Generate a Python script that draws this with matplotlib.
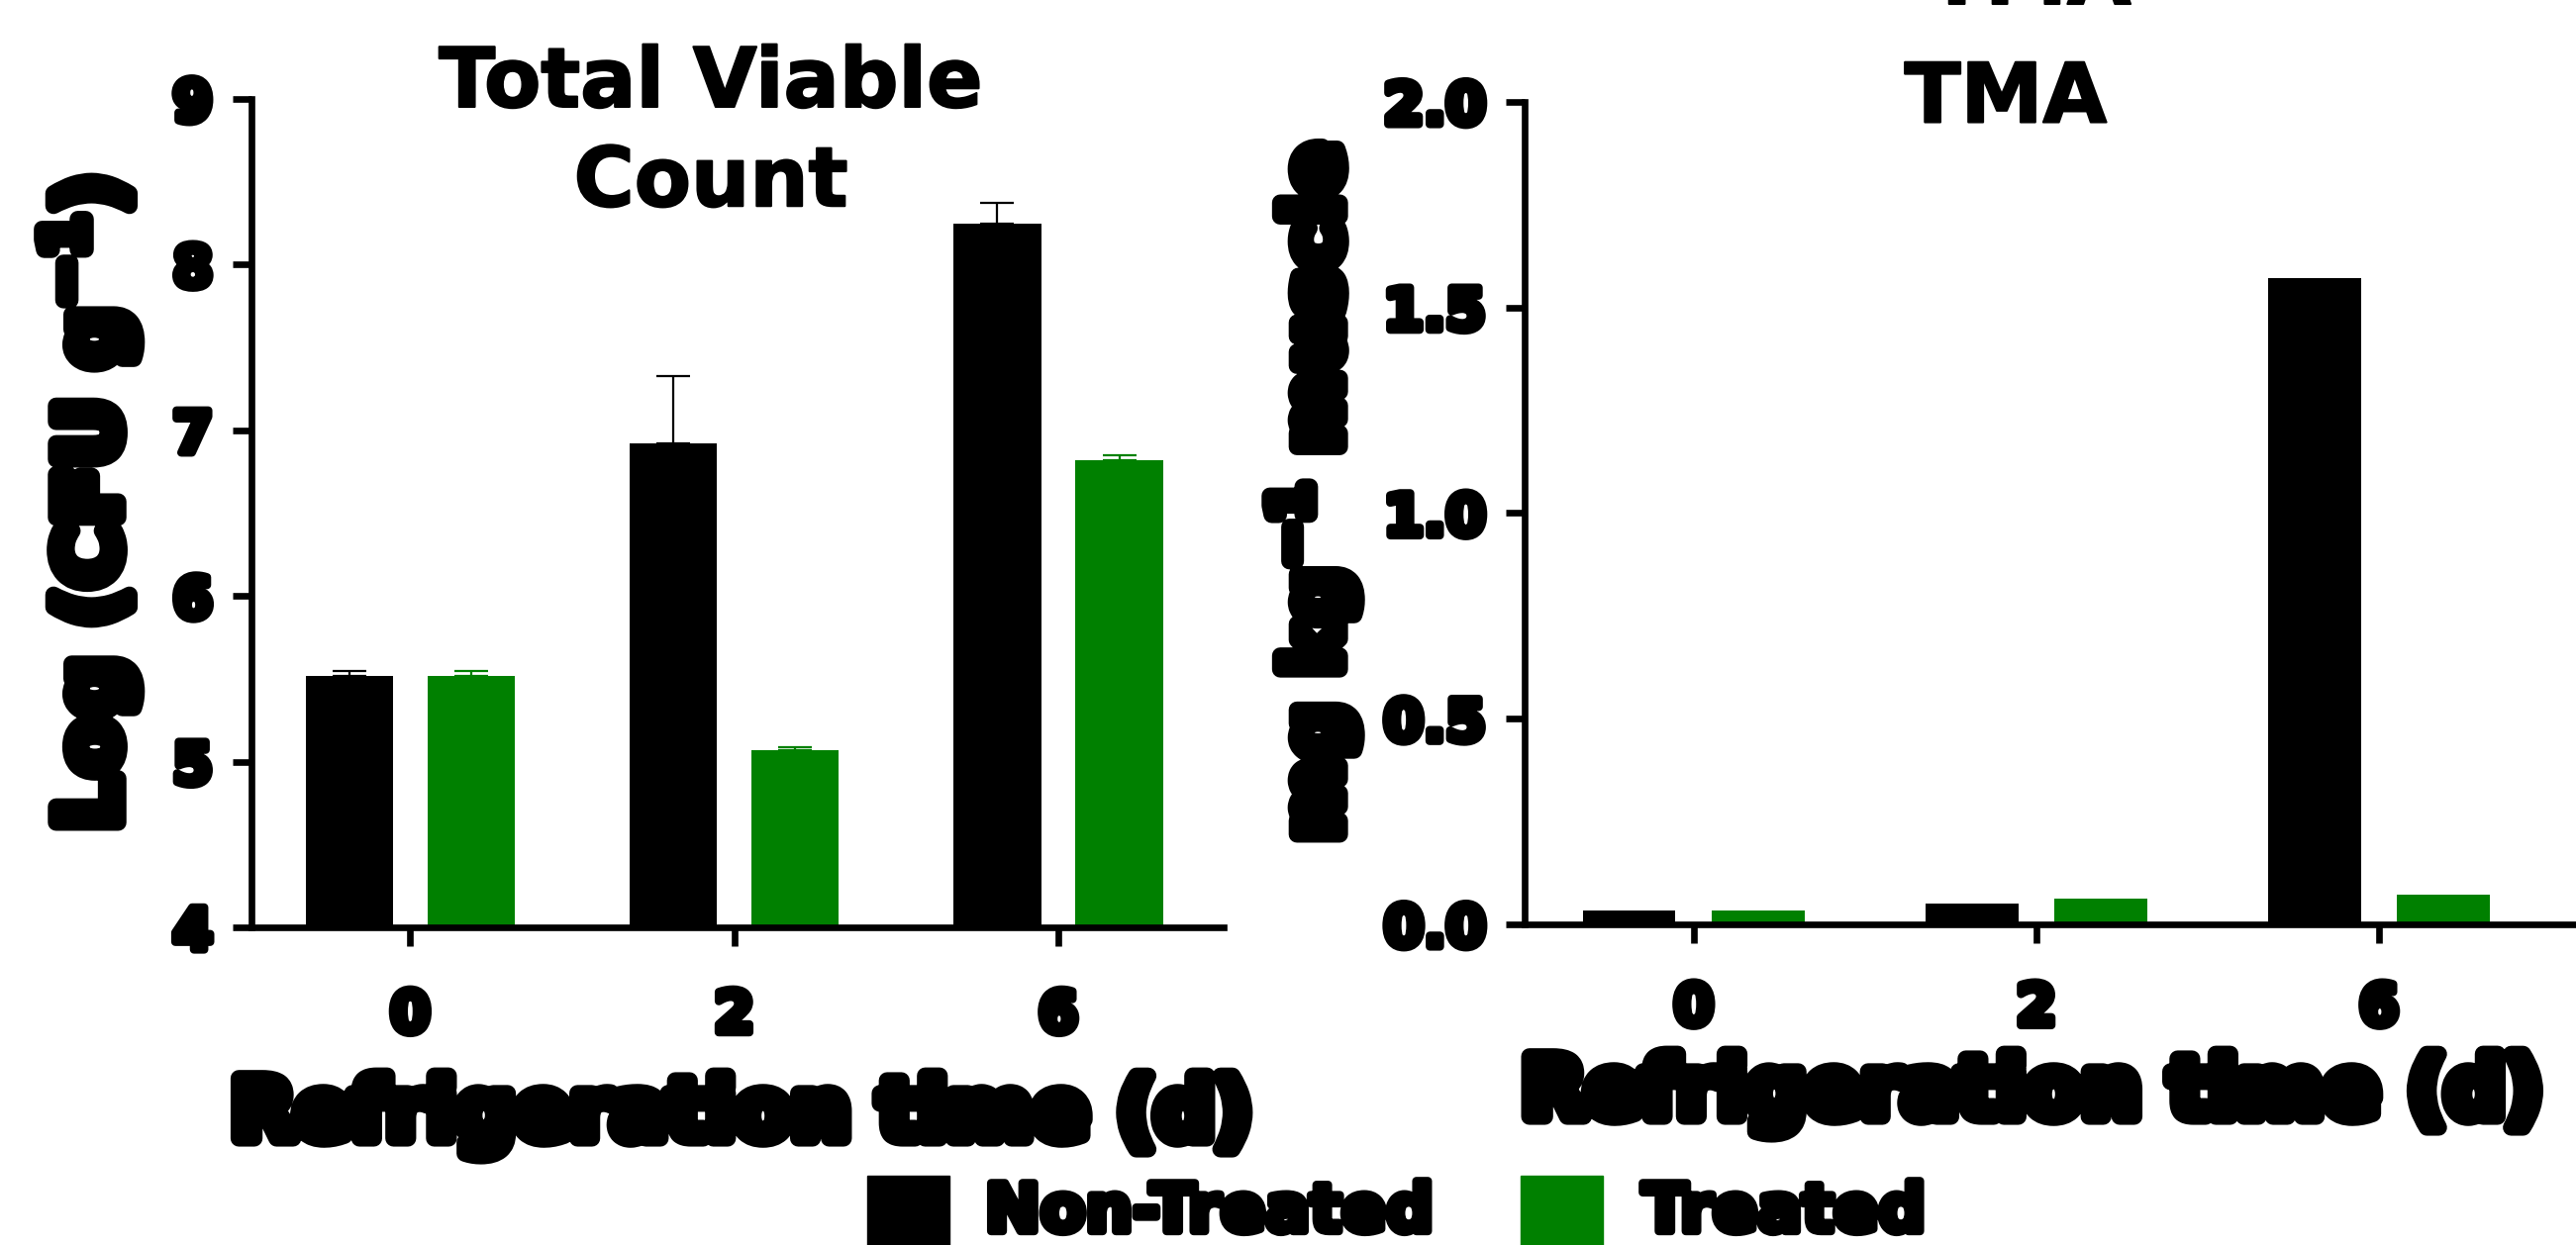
import matplotlib
matplotlib.use("Agg")
import matplotlib.pyplot as plt
import matplotlib.patheffects as pe
from matplotlib.patches import Rectangle
import numpy as np

plt.rcParams["font.family"] = ["DejaVu Sans"]
plt.rcParams["font.weight"] = "bold"
plt.rcParams["mathtext.fontset"] = "dejavusans"

# ---- data ----
days = ["0", "2", "6"]
tvc_non = [5.52, 6.92, 8.25]
tvc_non_err = [0.03, 0.41, 0.12]
tvc_trt = [5.52, 5.07, 6.82]
tvc_trt_err = [0.03, 0.02, 0.03]
tma_non = [0.034, 0.05, 1.572]
tma_trt = [0.034, 0.063, 0.072]

BLACK = "#000000"
GREEN = "#008000"


def heavy(w):
    return [pe.withStroke(linewidth=w, foreground="black")]


fig = plt.figure(figsize=(26.02, 12.58), dpi=100)
ax1 = fig.add_axes([0.0976, 0.2552, 0.3774, 0.6653])
ax2 = fig.add_axes([0.5918, 0.2576, 0.4082, 0.6606])

x = np.arange(len(days))
off = 0.188
bw = 0.27


def style_axis(ax, xpad):
    for s in ["top", "right"]:
        ax.spines[s].set_visible(False)
    for s in ["left", "bottom"]:
        ax.spines[s].set_linewidth(4.8)
    ax.tick_params(axis="both", width=4.8, length=14)
    ax.tick_params(axis="y", labelsize=42, pad=14)
    ax.tick_params(axis="x", labelsize=42, pad=xpad)
    ax.set_xticks(x)
    ax.set_xticklabels(days)
    for lbl in ax.get_xticklabels() + ax.get_yticklabels():
        lbl.set_fontweight("bold")
        lbl.set_path_effects(heavy(6))


# ---- Total viable count ----
ax1.bar(x - off, tvc_non, bw, color=BLACK)
ax1.bar(x + off, tvc_trt, bw, color=GREEN)
ax1.errorbar(x - off, tvc_non, yerr=[np.zeros(3), tvc_non_err], fmt="none",
             ecolor=BLACK, elinewidth=1.6, capsize=12, capthick=1.6)
ax1.errorbar(x + off, tvc_trt, yerr=[np.zeros(3), tvc_trt_err], fmt="none",
             ecolor=GREEN, elinewidth=1.6, capsize=12, capthick=1.6)
ax1.set_ylim(4, 9)
ax1.set_yticks([4, 5, 6, 7, 8, 9])
ax1.set_xlim(-0.49, 2.51)
style_axis(ax1, 30)

# ---- TMA ----
ax2.bar(x - off, tma_non, bw, color=BLACK)
ax2.bar(x + off, tma_trt, bw, color=GREEN)
ax2.set_ylim(0, 2.0)
ax2.set_yticks([0, 0.5, 1.0, 1.5, 2.0])
ax2.set_yticklabels(["0.0", "0.5", "1.0", "1.5", "2.0"])
ax2.set_xlim(-0.494, 2.575)
style_axis(ax2, 27)

# ---- titles ----
fig.text(0.276, 0.893, "Total Viable\nCount", ha="center", va="center",
         fontsize=60, fontweight="bold", linespacing=1.3, path_effects=heavy(1.5))
fig.text(0.7786, 0.9205, "TMA", ha="center", va="center",
         fontsize=60, fontweight="bold", path_effects=heavy(1.5))
# clipped repeat of the title at the very top edge, as in the original
fig.text(0.788, 1 - 4 / 1258, "TMA", ha="center", va="baseline",
         fontsize=60, fontweight="bold", path_effects=heavy(1.5))

# ---- axis labels ----
fig.text(0.288, 1 - 1127 / 1258, "Refrigeration time (d)", ha="center", va="center",
         fontsize=60, fontweight="bold", path_effects=heavy(12))
fig.text(0.789, 1 - 1105 / 1258, "Refrigeration time (d)", ha="center", va="center",
         fontsize=60, fontweight="bold", path_effects=heavy(12))
fig.text(91 / 2602, 0.5946, r"Log (CFU g$^{\mathbf{-1}}$)", ha="center", va="center",
         rotation=90, fontsize=62, fontweight="bold", path_effects=heavy(12))
fig.text(0.510, 0.604, r"mg kg$^{\mathbf{-1}}$ muscle", ha="center", va="center",
         rotation=90, fontsize=57, fontweight="bold", path_effects=heavy(12))

# ---- legend ----
W, H = 2602, 1258
for x0, col, lab, tx in [(876, BLACK, "Non-Treated", 995), (1536, GREEN, "Treated", 1659)]:
    fig.add_artist(Rectangle((x0 / W, 1 - 1275 / H), 83 / W, 87 / H,
                             transform=fig.transFigure, color=col, clip_on=False))
    fig.text(tx / W, 1 - 1225 / H, lab, ha="left", va="center",
             fontsize=48, fontweight="bold", path_effects=heavy(6))

fig.savefig("out.png", dpi=100)
